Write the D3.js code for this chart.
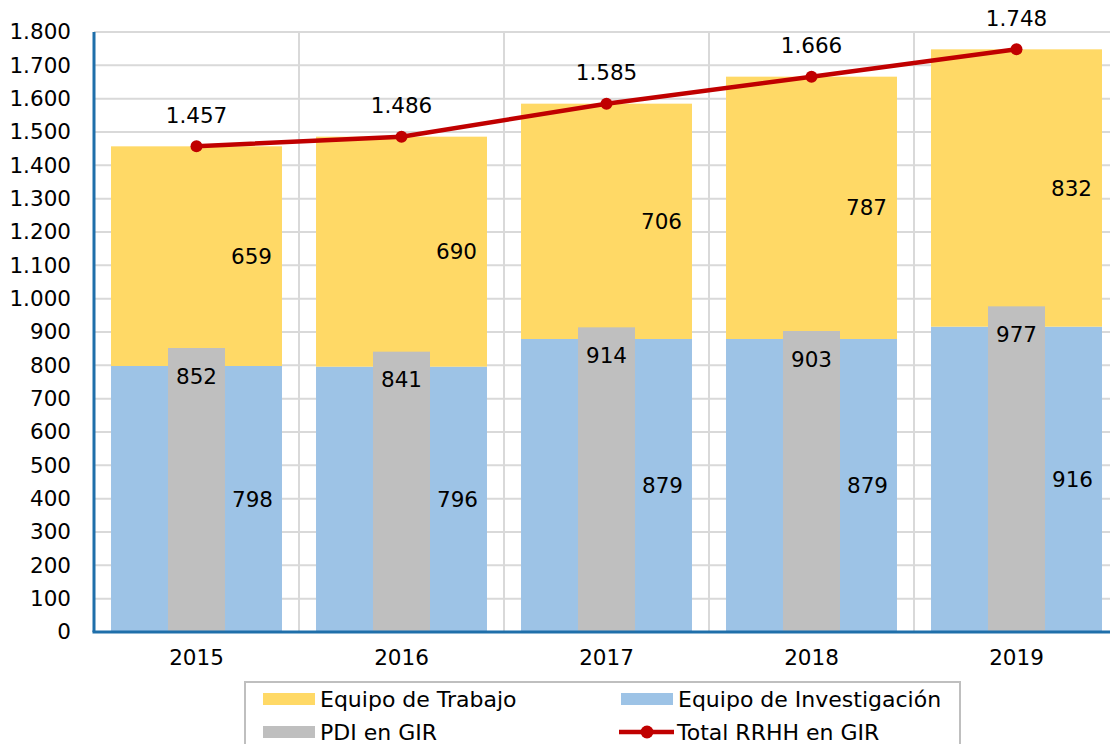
<!DOCTYPE html>
<html lang="es">
<head>
<meta charset="UTF-8">
<title>RRHH en GIR</title>
<script src="https://d3js.org/d3.v7.min.js"></script>
<style>
  body { margin: 0; background: #fff; }
  svg { display: block; font-family: "DejaVu Sans", sans-serif; }
  .lbl { font-size: 21.5px; fill: #000; }
  .tick text { font-size: 21.5px; fill: #000; }
  .leg { font-size: 22px; fill: #000; }
</style>
</head>
<body>
<svg width="1110" height="744"></svg>
<script>
// data
var years = ['2015', '2016', '2017', '2018', '2019']
var investigacion = [798, 796, 879, 879, 916]
var trabajo = [659, 690, 706, 787, 832]
var pdi = [852, 841, 914, 903, 977]
var total = [1457, 1486, 1585, 1666, 1748]
var yTicks = d3.range(0, 1801, 100)

var colors = { trabajo: '#FFD966', invest: '#9DC3E6', pdi: '#BFBFBF', total: '#C00000' }

var es = d3.formatLocale({ decimal: ',', thousands: '.', grouping: [3], currency: ['', ' €'] })
var fmt = es.format(',d')

var margin = { top: 32, left: 94, bottom: 112 }
var svg = d3.select('svg')
var h = 744 - margin.top - margin.bottom

var x = d3.scaleBand()
  .domain(years)
  .range([margin.left, margin.left + 5 * 205])
  .paddingInner(0.166)
  .paddingOuter(0.083)

var y = d3.scaleLinear()
  .domain([0, 1800])
  .range([margin.top + h, margin.top])

var step = x.step()
var bw = x.bandwidth()

// grid
var grid = svg.append('g').attr('stroke', '#D9D9D9').attr('stroke-width', 2)
yTicks.forEach(t => {
  grid.append('line')
    .attr('x1', margin.left).attr('x2', 1110)
    .attr('y1', y(t)).attr('y2', y(t))
})
years.forEach((yr, i) => {
  if (i == 0) return
  var gx = x(yr) - step * 0.083
  grid.append('line')
    .attr('x1', gx).attr('x2', gx)
    .attr('y1', y(1800)).attr('y2', y(0))
})

// stacked bars
years.forEach((yr, i) => {
  svg.append('rect')
    .attr('x', x(yr)).attr('width', bw)
    .attr('y', y(investigacion[i])).attr('height', y(0) - y(investigacion[i]))
    .attr('fill', colors.invest)
  svg.append('rect')
    .attr('x', x(yr)).attr('width', bw)
    .attr('y', y(investigacion[i] + trabajo[i])).attr('height', y(investigacion[i]) - y(investigacion[i] + trabajo[i]))
    .attr('fill', colors.trabajo)
  svg.append('rect')
    .attr('x', x(yr) + bw / 3).attr('width', bw / 3)
    .attr('y', y(pdi[i])).attr('height', y(0) - y(pdi[i]))
    .attr('fill', colors.pdi)
})

// axes
var axis = svg.append('g').attr('stroke', '#1F6FAA').attr('stroke-width', 3)
axis.append('line')
  .attr('x1', margin.left).attr('x2', margin.left)
  .attr('y1', y(1800)).attr('y2', y(0))
axis.append('line')
  .attr('x1', margin.left - 1.5).attr('x2', 1110)
  .attr('y1', y(0)).attr('y2', y(0))

var yAxis = svg.append('g')
  .attr('transform', `translate(${margin.left},0)`)
  .call(d3.axisLeft(y).tickValues(yTicks).tickFormat(fmt).tickSize(0).tickPadding(23))
yAxis.select('.domain').remove()

var xAxis = svg.append('g')
  .attr('transform', `translate(0,${y(0)})`)
  .call(d3.axisBottom(x).tickSize(0).tickPadding(18))
xAxis.select('.domain').remove()
svg.selectAll('.tick').select('line').remove()
yAxis.attr('font-family', null).attr('font-size', null)
xAxis.attr('font-family', null).attr('font-size', null)

// total line
var line = d3.line()
  .x((d, i) => x(years[i]) + bw / 2)
  .y(d => y(d))
svg.append('path')
  .datum(total)
  .attr('d', line)
  .attr('fill', 'none')
  .attr('stroke', colors.total)
  .attr('stroke-width', 4.5)
svg.selectAll('.dot')
  .data(total)
  .join('circle')
  .attr('cx', (d, i) => x(years[i]) + bw / 2)
  .attr('cy', d => y(d))
  .attr('r', 6)
  .attr('fill', colors.total)

// data labels
years.forEach((yr, i) => {
  var cx = x(yr) + bw / 2
  svg.append('text').attr('class', 'lbl')
    .attr('x', cx + 56).attr('y', y(investigacion[i] / 2)).attr('dy', '0.35em')
    .attr('text-anchor', 'middle').text(fmt(investigacion[i]))
  svg.append('text').attr('class', 'lbl')
    .attr('x', cx + 55).attr('y', y(investigacion[i] + trabajo[i] / 2)).attr('dy', '0.35em')
    .attr('text-anchor', 'middle').text(fmt(trabajo[i]))
  svg.append('text').attr('class', 'lbl')
    .attr('x', cx).attr('y', y(pdi[i]) + 28).attr('dy', '0.35em')
    .attr('text-anchor', 'middle').text(fmt(pdi[i]))
  svg.append('text').attr('class', 'lbl')
    .attr('x', cx).attr('y', y(total[i]) - 31).attr('dy', '0.35em')
    .attr('text-anchor', 'middle').text(fmt(total[i]))
})

// legend
var legend = svg.append('g')
legend.append('rect')
  .attr('x', 245).attr('y', 682).attr('width', 715).attr('height', 80)
  .attr('fill', '#fff').attr('stroke', '#BFBFBF').attr('stroke-width', 2)
var items = [
  { name: 'Equipo de Trabajo', color: colors.trabajo, type: 'rect', lx: 263, ly: 699 },
  { name: 'Equipo de Investigación', color: colors.invest, type: 'rect', lx: 621, ly: 699 },
  { name: 'PDI en GIR', color: colors.pdi, type: 'rect', lx: 263, ly: 732 },
  { name: 'Total RRHH en GIR', color: colors.total, type: 'line', lx: 619, ly: 732 }
]
items.forEach(it => {
  if (it.type == 'rect') {
    legend.append('rect')
      .attr('x', it.lx).attr('y', it.ly - 6).attr('width', 52).attr('height', 12)
      .attr('fill', it.color)
  } else {
    legend.append('line')
      .attr('x1', it.lx).attr('x2', it.lx + 55)
      .attr('y1', it.ly).attr('y2', it.ly)
      .attr('stroke', it.color).attr('stroke-width', 4.5)
    legend.append('circle')
      .attr('cx', it.lx + 28).attr('cy', it.ly).attr('r', 6.5)
      .attr('fill', it.color)
  }
  legend.append('text').attr('class', 'leg')
    .attr('x', it.type == 'line' ? it.lx + 58 : it.lx + 57).attr('y', it.ly).attr('dy', '0.35em')
    .text(it.name)
})
</script>
</body>
</html>
